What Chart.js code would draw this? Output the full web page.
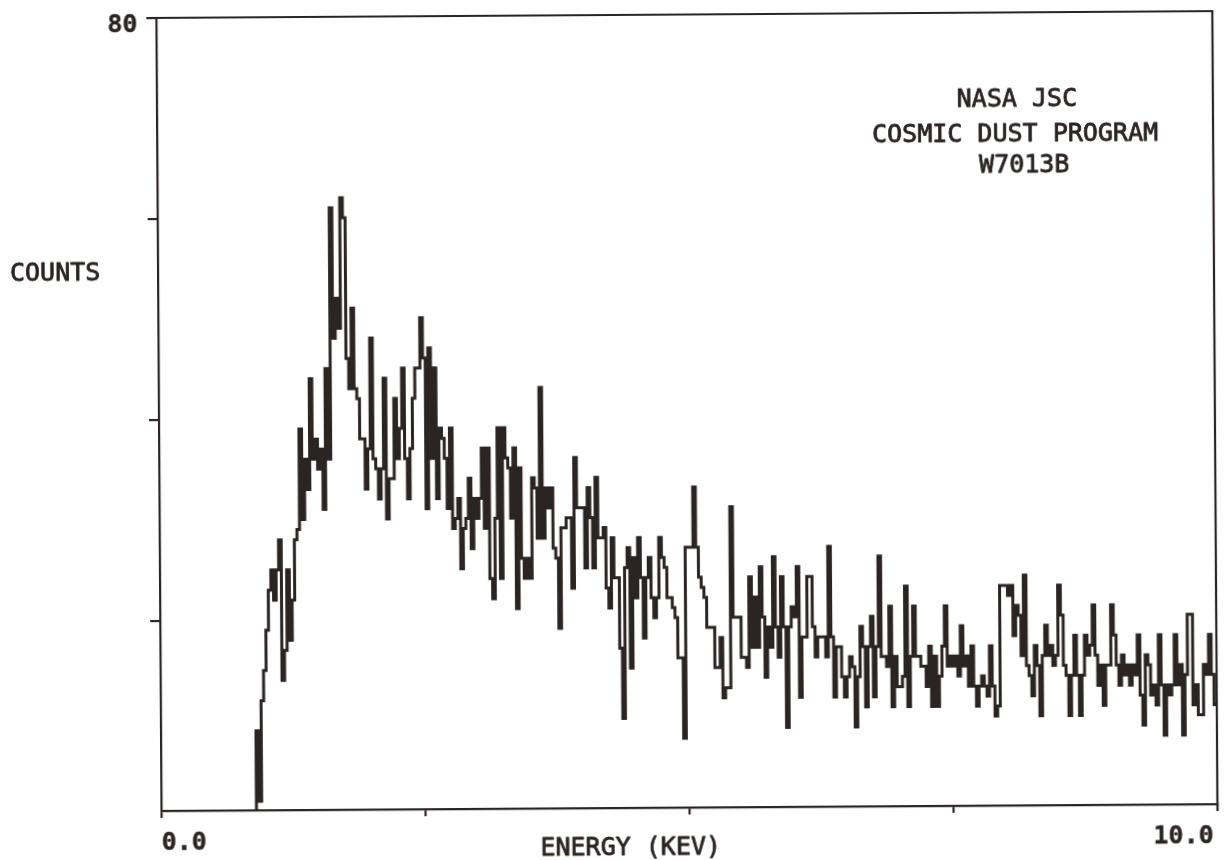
<!DOCTYPE html>
<html>
<head>
<meta charset="utf-8">
<script src="https://cdn.jsdelivr.net/npm/chart.js@4/dist/chart.umd.min.js"></script>
<style>
  html, body { margin: 0; padding: 0; background: #ffffff; width: 1225px; height: 860px; overflow: hidden; }
  #wrap { position: absolute; left: 0; top: 0; width: 1225px; height: 860px;
          transform: rotate(-0.37deg); transform-origin: 612.5px 430px; }
  canvas { display: block; }
</style>
</head>
<body>
<div id="wrap"><canvas id="c" width="1225" height="860"></canvas></div>
<script>
// ---- data ----
const CHANNEL_WIDTH_KEV = 0.025;   // energy width of one analyser channel
const FIRST_CHANNEL = 36;          // channel index of the first value below
const COUNTS = [
  0,
  9, 2, 12, 15, 19, 23, 25, 22, 25, 28, 14, 17, 25, 18, 22, 28, 29,
  39, 30, 36, 33, 44, 36, 38, 35, 37, 31, 45, 36, 61, 48, 52, 49, 62, 60,
  46, 43, 51, 43, 42, 38, 38, 33, 37, 48, 36, 35, 32, 35, 44, 30, 34, 34, 42, 36, 39, 45, 36, 32, 37, 42, 45, 45, 50, 46,
  31, 47, 36, 45, 32, 39, 38, 36, 31, 39, 29, 30, 32, 25, 29, 30, 34, 27, 32, 30, 32, 37, 29, 37, 24, 22, 30, 39, 24, 39,
  36, 35, 30, 37, 21, 35, 26, 24, 26, 24, 34, 33, 28, 43, 28, 33, 31, 33, 27, 26, 19, 29, 29, 30, 30, 23, 36, 31, 31, 31,
  25, 33, 30, 25, 34, 28, 28, 29, 23, 21, 28, 24, 24, 17, 10, 25, 27, 15, 26, 22,
  28, 24, 18, 24, 26, 22, 20, 22, 28, 26, 25, 22, 22, 21, 20, 16, 16, 8, 27, 27,
  27, 33, 27, 24, 23, 22, 19, 19, 19, 15, 15, 18, 12, 13, 13, 31, 20, 20, 20, 16,
  16, 15, 24, 17, 22, 17, 25, 20, 14, 19, 17, 26, 19, 16, 24, 19, 9, 19, 21, 20,
  25, 12, 18, 18, 24, 24, 19, 16, 18, 18, 18, 16, 27, 18, 12, 17, 17, 14, 12, 14,
  16, 15, 9, 14, 19, 17, 11, 17, 20, 12, 17, 26, 16, 16, 15, 21, 11, 16, 13, 13,
  14, 23, 11, 16, 21, 16, 16, 15, 15, 13, 17, 11, 16, 11, 14, 17, 21, 15, 16, 15,
  16, 14, 19, 15, 16, 13, 17, 13, 11, 13, 14, 13, 12, 17, 13, 10, 11, 23, 23, 23,
  22, 23, 18, 21, 20, 16, 24, 15, 14, 12, 17, 15, 10, 16, 19, 16, 17, 15, 16, 23,
  20, 15, 14, 10, 14, 18, 14, 10, 14, 18, 16, 17, 21, 16, 13, 15, 11, 15, 15, 21,
  18, 15, 13, 16, 14, 15, 13, 15, 14, 18, 12, 9, 16, 15, 12, 13, 11, 18, 13, 8,
  13, 12, 13, 18, 13, 15, 8, 14, 20, 20, 11, 13, 10, 10, 15, 14, 18, 14, 11
];
const X_MIN = 0.0, X_MAX = 10.0, X_TICK_STEP = 2.5;
const X_TICK_LABELS = ['0.0', '10.0'];
const Y_MIN = 1.1, Y_MAX = 80;
const Y_TICKS = [20, 40, 60, 80];
const Y_TICK_LABEL = '80';
const X_TITLE = 'ENERGY (KEV)';
const Y_TITLE = 'COUNTS';
const NOTE_LINES = ['NASA JSC', 'COSMIC DUST PROGRAM', 'W7013B'];

// ---- build histogram points (channel start energy, count) ----
const points = COUNTS.map((c, k) => ({ x: (FIRST_CHANNEL + k) * CHANNEL_WIDTH_KEV, y: c }));
points.push({ x: (FIRST_CHANNEL + COUNTS.length) * CHANNEL_WIDTH_KEV, y: COUNTS[COUNTS.length - 1] });

const INK = '#2a2523';
const FONT = '"DejaVu Sans Mono", "Liberation Mono", monospace';

function inkText(ctx, t, x, y, w) {
  ctx.fillText(t, x, y);
  ctx.lineWidth = w;
  ctx.strokeText(t, x, y);
}

const textPlugin = {
  id: 'plotterText',
  beforeDraw(chart) {
    const ctx = chart.ctx;
    ctx.save();
    ctx.fillStyle = '#ffffff';
    ctx.fillRect(0, 0, chart.width, chart.height);
    ctx.restore();
  },
  afterDraw(chart) {
    const ctx = chart.ctx;
    const a = chart.chartArea;
    const xs = chart.scales.x, ys = chart.scales.y;
    ctx.save();
    // frame top and right
    ctx.strokeStyle = INK;
    ctx.lineWidth = 2.2;
    ctx.beginPath();
    ctx.moveTo(a.left, a.top);
    ctx.lineTo(a.right, a.top);
    ctx.lineTo(a.right, a.bottom + 6);
    ctx.stroke();

    ctx.fillStyle = INK;
    ctx.strokeStyle = INK;
    ctx.lineJoin = 'round';
    ctx.textBaseline = 'alphabetic';
    // y tick label
    ctx.font = 'bold 25px ' + FONT;
    ctx.textAlign = 'right';
    inkText(ctx, Y_TICK_LABEL, a.left - 19, ys.getPixelForValue(Y_MAX) + 14, 0.4);
    // x tick labels
    ctx.textAlign = 'left';
    inkText(ctx, X_TICK_LABELS[0], xs.getPixelForValue(X_MIN), a.bottom + 39, 0.4);
    ctx.textAlign = 'right';
    inkText(ctx, X_TICK_LABELS[1], xs.getPixelForValue(X_MAX) - 4, a.bottom + 39, 0.4);
    // titles
    ctx.font = '25px ' + FONT;
    ctx.textAlign = 'left';
    inkText(ctx, Y_TITLE, 11, 277, 0.8);
    ctx.textAlign = 'center';
    inkText(ctx, X_TITLE, 628, 855, 0.8);
    // note
    const noteX = [1019, 1017, 1026];
    const noteY = [109, 144, 175];
    NOTE_LINES.forEach((t, i) => inkText(ctx, t, noteX[i], noteY[i], 0.8));
    ctx.restore();
  }
};

new Chart(document.getElementById('c'), {
  type: 'line',
  data: {
    datasets: [{
      data: points,
      stepped: 'after',
      borderColor: INK,
      borderWidth: 3,
      pointRadius: 0,
      fill: false,
      tension: 0,
      borderJoinStyle: 'miter',
      borderCapStyle: 'butt'
    }]
  },
  options: {
    responsive: false,
    devicePixelRatio: 1,
    animation: false,
    events: [],
    layout: { padding: { left: 0, top: 15, right: 10, bottom: 0 } },
    plugins: { legend: { display: false }, tooltip: { enabled: false }, title: { display: false } },
    scales: {
      x: {
        type: 'linear',
        min: X_MIN, max: X_MAX,
        ticks: { display: false, stepSize: X_TICK_STEP },
        grid: { drawOnChartArea: false, drawTicks: true, tickLength: 7, color: INK, lineWidth: 2.2 },
        border: { display: true, color: INK, width: 2.2 },
        afterFit(s) { s.height = 52; }
      },
      y: {
        type: 'linear',
        min: Y_MIN, max: Y_MAX,
        afterBuildTicks(s) { s.ticks = Y_TICKS.map(v => ({ value: v })); },
        ticks: { display: false },
        grid: { drawOnChartArea: false, drawTicks: true, tickLength: 10, color: INK, lineWidth: 2.2 },
        border: { display: true, color: INK, width: 2.2 },
        afterFit(s) { s.width = 159; }
      }
    }
  },
  plugins: [textPlugin]
});
</script>
</body>
</html>
